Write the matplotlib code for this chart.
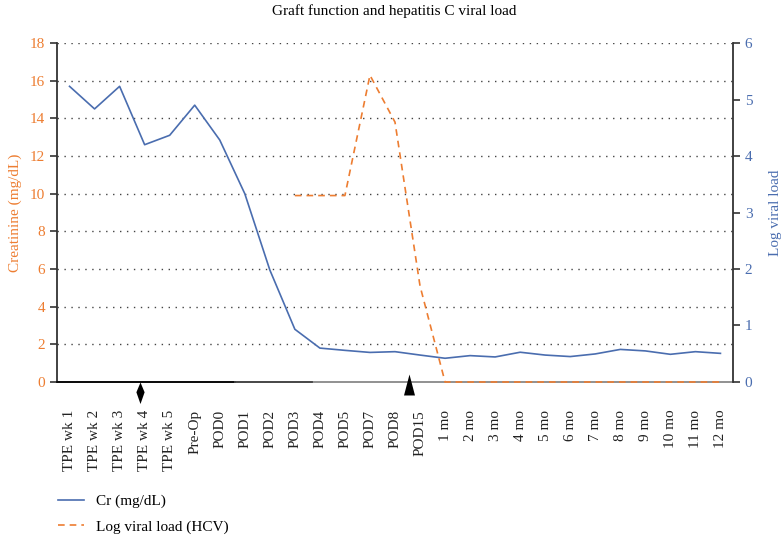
import matplotlib.pyplot as plt
import numpy as np

plt.rcParams['font.family'] = ['Liberation Serif', 'DejaVu Serif']

categories = ["TPE wk 1", "TPE wk 2", "TPE wk 3", "TPE wk 4", "TPE wk 5", "Pre-Op",
              "POD0", "POD1", "POD2", "POD3", "POD4", "POD5", "POD7", "POD8", "POD15",
              "1 mo", "2 mo", "3 mo", "4 mo", "5 mo", "6 mo", "7 mo", "8 mo", "9 mo",
              "10 mo", "11 mo", "12 mo"]

cr = [15.7, 14.5, 15.7, 12.6, 13.1, 14.7, 12.85, 10.0, 5.95, 2.8, 1.8, 1.68, 1.57,
      1.61, 1.43, 1.26, 1.40, 1.33, 1.58, 1.43, 1.35, 1.49, 1.73, 1.65, 1.47, 1.61, 1.52]

hcv = [np.nan] * 9 + [3.3, 3.3, 3.3, 5.43, 4.6, 1.7] + [0] * 12

# event markers (category positions)
diamond_pos = 2.8
triangle_pos = 13.55

blue = "#4A6DAF"
orange = "#ED7D31"

fig = plt.figure(figsize=(7.81, 5.35), dpi=100)
ax = fig.add_axes([0.073, 0.286, 0.8655, 0.6336])
ax2 = ax.twinx()

x = np.arange(len(categories))
l1, = ax.plot(x, cr, color=blue, lw=1.2, label="Cr (mg/dL)")
l2, = ax2.plot(x, hcv, color=orange, lw=1.2, ls=(0, (4, 3)), label="Log viral load (HCV)",
               clip_on=False, zorder=6)

ax.set_xlim(-0.5, len(categories) - 0.5)
ax.set_ylim(0, 18)
ax2.set_ylim(0, 6)
ax.set_yticks(np.arange(0, 19, 2))
ax2.set_yticks(np.arange(0, 7, 1))

for yv in np.arange(2, 19, 2):
    ax.axhline(yv, color="#444444", lw=1.0, ls=(0, (1, 4)), zorder=0)

for a in (ax, ax2):
    a.spines['top'].set_visible(False)
ax.spines['left'].set_color("#333333")
ax.spines['left'].set_linewidth(1.3)
ax2.spines['right'].set_color("#333333")
ax2.spines['right'].set_linewidth(1.3)
ax.spines['bottom'].set_color("#888888")
ax.spines['bottom'].set_linewidth(1.3)
ax2.spines['bottom'].set_visible(False)
ax2.spines['left'].set_visible(False)
ax.spines['right'].set_visible(False)
ax.plot([-0.5, 6.6], [0, 0], color="black", lw=1.3, clip_on=False, zorder=3)
ax.plot([6.6, 9.7], [0, 0], color="#444444", lw=1.3, clip_on=False, zorder=3)

ax.tick_params(axis='y', colors=orange, labelsize=11, length=5, width=1.2)
ax.tick_params(axis='y', color="#333333")
ax2.tick_params(axis='y', colors=blue, labelsize=11, length=5, width=1.2)
ax2.tick_params(axis='y', color="#333333")

ax.set_xticks(x)
ax.set_xticklabels(categories, rotation=90, fontsize=11, color="#222222")
ax.tick_params(axis='x', length=0, pad=20)

ax.set_ylabel("Creatinine (mg/dL)", color=orange, fontsize=11, labelpad=6)
ax2.set_ylabel("Log viral load", color=blue, fontsize=11, labelpad=12)

# diamond hanging below the axis, triangle pointing up across it
diamond = [(0, 0), (4.2, -10), (0, -22), (-4.2, -10), (0, 0)]
triangle = [(0, 8), (5.5, -13), (-5.5, -13), (0, 8)]
ax2.plot([diamond_pos], [0], marker=diamond, markersize=31, color="black",
         clip_on=False, zorder=7, markeredgewidth=0, ls="none")
ax2.plot([triangle_pos], [0], marker=triangle, markersize=18.7, color="black",
         clip_on=False, zorder=7, markeredgewidth=0, ls="none")

fig.suptitle("Graft function and hepatitis C viral load", x=0.505, y=0.992,
             fontsize=11, va="top")

fig.legend(handles=[l1, l2], loc="upper left", bbox_to_anchor=(0.067, 0.087),
           frameon=False, fontsize=11, handlelength=1.7, labelspacing=0.75,
           borderaxespad=0, handletextpad=0.75)

fig.savefig("out.png", dpi=100)
